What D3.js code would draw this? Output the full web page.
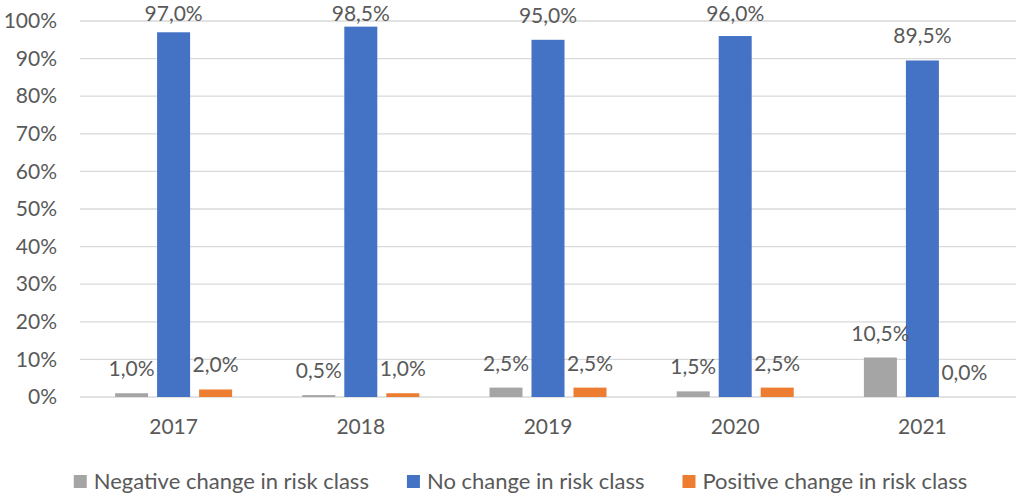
<!DOCTYPE html>
<html>
<head>
<meta charset="utf-8">
<script src="https://cdn.jsdelivr.net/npm/d3@7"></script>
<style>
  html, body { margin: 0; padding: 0; background: #fff; }
  svg { display: block; }
  text { font-family: Lato, "Open Sans", sans-serif; fill: #595959; }
</style>
</head>
<body>
<svg id="chart" width="1016" height="495"></svg>
<script>
// Year-over-year migration of risk class, share of cases
const years = ["2017", "2018", "2019", "2020", "2021"];
const seriesNames = ["Negative change in risk class", "No change in risk class", "Positive change in risk class"];
const negativeChange = [1.0, 0.5, 2.5, 1.5, 10.5];
const noChange = [97.0, 98.5, 95.0, 96.0, 89.5];
const positiveChange = [2.0, 1.0, 2.5, 2.5, 0.0];
const yTicks = [0, 10, 20, 30, 40, 50, 60, 70, 80, 90, 100];
const colors = ["#A5A5A5", "#4472C4", "#ED7D31"];

const seriesValues = [negativeChange, noChange, positiveChange];

const svg = d3.select("#chart");
const plotLeft = 80, plotRight = 1016, plotTop = 21, plotBottom = 397;

const x = d3.scaleBand().domain(years).range([plotLeft, plotRight]).paddingInner(0).paddingOuter(0);
const y = d3.scaleLinear().domain([0, 100]).range([plotBottom, plotTop]);

const barW = 33, barGap = 9;
const groupW = barW * 3 + barGap * 2;

const fmt = v => v.toFixed(1).replace(".", ",") + "%";

// gridlines
svg.append("g")
  .selectAll("line")
  .data(yTicks)
  .join("line")
  .attr("x1", plotLeft).attr("x2", plotRight)
  .attr("y1", d => y(d)).attr("y2", d => y(d))
  .attr("stroke", "#D9D9D9").attr("stroke-width", 1.3);

// y axis labels
const yAxis = d3.axisLeft(y).tickValues(yTicks).tickFormat(d => d + "%").tickSize(0).tickPadding(0);
const yg = svg.append("g").attr("transform", `translate(57,0)`).call(yAxis);
yg.select(".domain").remove();
yg.selectAll("text").attr("font-size", 21).attr("fill", "#595959")
  .style("font-family", "Lato, 'Open Sans', sans-serif");

// x axis labels
const xAxis = d3.axisBottom(x).tickSize(0).tickPadding(0);
const xg = svg.append("g").attr("transform", `translate(0,${plotBottom + 22})`).call(xAxis);
xg.select(".domain").remove();
xg.selectAll("text").attr("font-size", 21).attr("fill", "#595959")
  .style("font-family", "Lato, 'Open Sans', sans-serif");

// bars and value labels
const bars = [];
years.forEach((yr, i) => {
  seriesValues.forEach((vals, s) => {
    bars.push({ year: yr, s, v: vals[i] });
  });
});
const bx = d => x(d.year) + x.bandwidth() / 2 - groupW / 2 + d.s * (barW + barGap);

svg.append("g")
  .selectAll("rect")
  .data(bars)
  .join("rect")
  .attr("x", bx)
  .attr("y", d => y(d.v))
  .attr("width", barW)
  .attr("height", d => plotBottom - y(d.v))
  .attr("fill", d => colors[d.s]);

svg.append("g")
  .selectAll("text")
  .data(bars)
  .join("text")
  .attr("x", d => bx(d) + barW / 2)
  .attr("y", d => Math.max(21, y(d.v) - 17))
  .attr("text-anchor", "middle")
  .attr("font-size", 21)
  .text(d => fmt(d.v));

// legend
const lg = svg.append("g");
const items = lg.selectAll("g").data(seriesNames).join("g");
items.append("rect").attr("width", 13).attr("height", 13).attr("y", 475)
  .attr("fill", (d, i) => colors[i]);
items.append("text").attr("x", 20).attr("y", 489).attr("font-size", 22).text(d => d);
const widths = [];
items.each(function() { widths.push(20 + this.querySelector("text").getComputedTextLength()); });
const total = d3.sum(widths) + 38 * (widths.length - 1);
let cx = 520.5 - total / 2;
items.attr("transform", (d, i) => {
  const t = `translate(${cx},0)`;
  cx += widths[i] + 38;
  return t;
});
</script>
</body>
</html>
